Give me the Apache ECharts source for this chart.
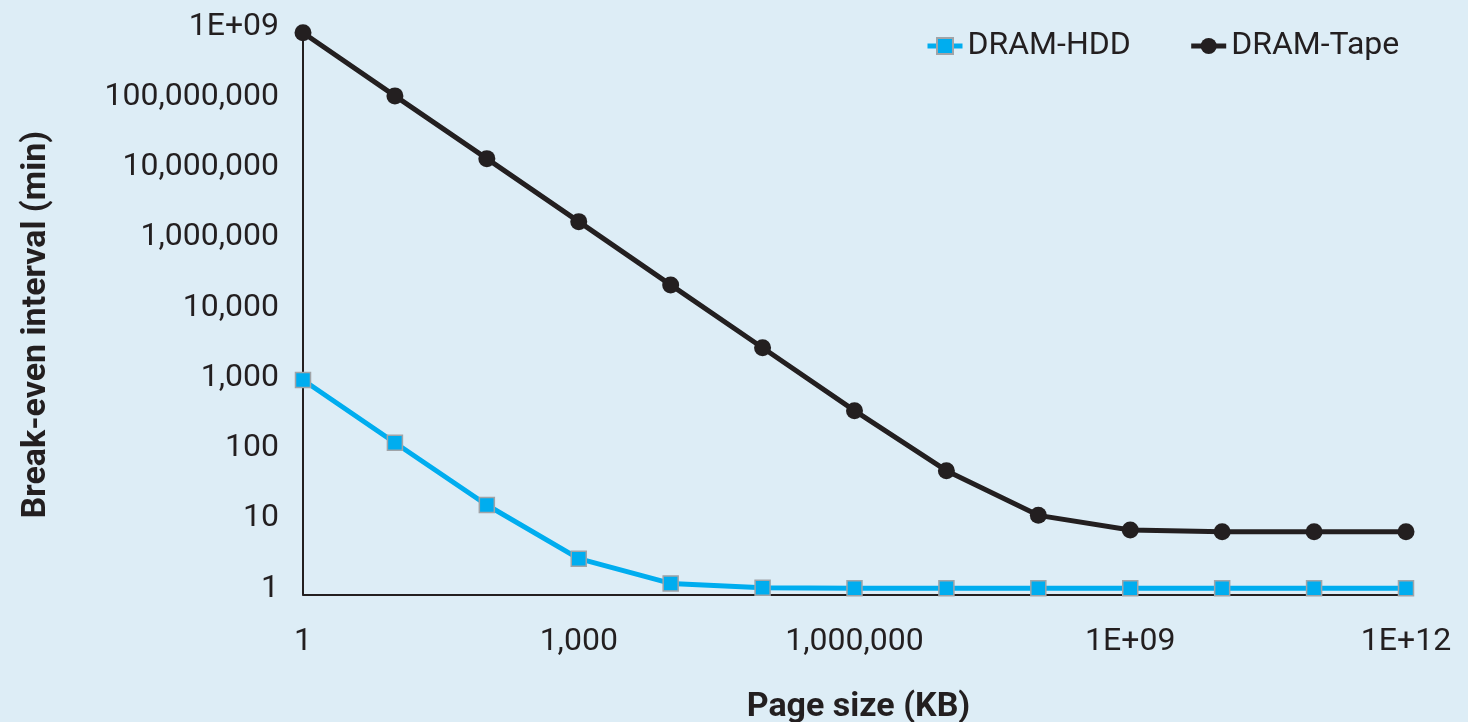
<!DOCTYPE html>
<html>
<head>
<meta charset="utf-8">
<script src="https://cdn.jsdelivr.net/npm/echarts@6/dist/echarts.min.js"></script>
<style>
  html, body { margin: 0; padding: 0; background: #ddedf6; }
  #chart { width: 1468px; height: 722px; }
</style>
</head>
<body>
<div id="chart"></div>
<script>
// Page sizes (KB), one point per decade
const pageSizes = [1, 10, 100, 1e3, 1e4, 1e5, 1e6, 1e7, 1e8, 1e9, 1e10, 1e11, 1e12];
// Break-even interval (min)
const dramHdd  = [1135, 145, 18.8, 3.24, 1.44, 1.25, 1.23, 1.23, 1.23, 1.23, 1.23, 1.23, 1.23];
const dramTape = [1e8, 1.26e7, 1.61e6, 2.04e5, 2.56e4, 3270, 415, 58, 13.4, 8.3, 7.8, 7.8, 7.8];
// Tick positions and labels exactly as printed in the original figure
const yTickValues = [1, 10, 100, 1e3, 1e4, 1e5, 1e6, 1e7, 1e8];
const yTickLabels = ['1', '10', '100', '1,000', '10,000', '1,000,000', '10,000,000', '100,000,000', '1E+09'];
const xTickValues = [1, 1e3, 1e6, 1e9, 1e12];
const xTickLabels = ['1', '1,000', '1,000,000', '1E+09', '1E+12'];
const seriesNames = ['DRAM-HDD', 'DRAM-Tape'];

const FONT = 'Roboto';
const DARK = '#231f20';
const BLUE = '#00adef';

function labelFor(values, labels) {
  return function (v) {
    const e = Math.log10(v);
    for (let i = 0; i < values.length; i++) {
      if (Math.abs(Math.log10(values[i]) - e) < 1e-6) return labels[i];
    }
    return '';
  };
}

const chart = echarts.init(document.getElementById('chart'));
chart.setOption({
  backgroundColor: '#ddedf6',
  animation: false,
  grid: { left: 303, right: 62, top: 32.7, bottom: 127.5, outerBoundsMode: 'none' },
  legend: {
    left: 925, top: 30, padding: 0,
    itemWidth: 35, itemHeight: 20, itemGap: 58,
    lineStyle: { width: 5 },
    textStyle: { fontFamily: FONT, fontSize: 32, color: DARK },
    data: seriesNames
  },
  xAxis: {
    type: 'log', logBase: 10, min: 1, max: 1e12, splitNumber: 12,
    name: 'Page size (KB)', nameLocation: 'middle', nameGap: 96,
    nameTextStyle: { fontFamily: FONT, fontWeight: 'bold', fontSize: 34, color: DARK, padding: [0, 0, 0, 8] },
    axisLine: { lineStyle: { color: DARK, width: 2 } },
    axisTick: { show: false },
    splitLine: { show: false },
    axisLabel: {
      fontFamily: FONT, fontSize: 32, color: DARK, margin: 31,
      customValues: xTickValues,
      formatter: labelFor(xTickValues, xTickLabels)
    }
  },
  yAxis: {
    type: 'log', logBase: 10, min: 1, max: 1e8, splitNumber: 8,
    name: 'Break-even interval (min)', nameLocation: 'middle', nameGap: 250,
    nameTextStyle: { fontFamily: FONT, fontWeight: 'bold', fontSize: 34, color: DARK, padding: [0, 22, 0, 0] },
    axisLine: { show: true, lineStyle: { color: DARK, width: 2 } },
    axisTick: { show: false },
    splitLine: { show: false },
    axisLabel: {
      fontFamily: FONT, fontSize: 32, color: DARK, margin: 24,
      verticalAlign: 'bottom', lineHeight: 12,
      customValues: yTickValues,
      formatter: labelFor(yTickValues, yTickLabels)
    }
  },
  series: [
    {
      name: seriesNames[0], type: 'line',
      data: pageSizes.map((x, i) => [x, dramHdd[i]]),
      symbol: 'rect', symbolSize: 15,
      lineStyle: { color: BLUE, width: 5 },
      itemStyle: { color: BLUE, borderColor: '#a0a4a8', borderWidth: 1.5 },
      z: 2
    },
    {
      name: seriesNames[1], type: 'line',
      data: pageSizes.map((x, i) => [x, dramTape[i]]),
      symbol: 'circle', symbolSize: 17,
      lineStyle: { color: DARK, width: 5 },
      itemStyle: { color: DARK },
      z: 3
    }
  ]
});
</script>
</body>
</html>
